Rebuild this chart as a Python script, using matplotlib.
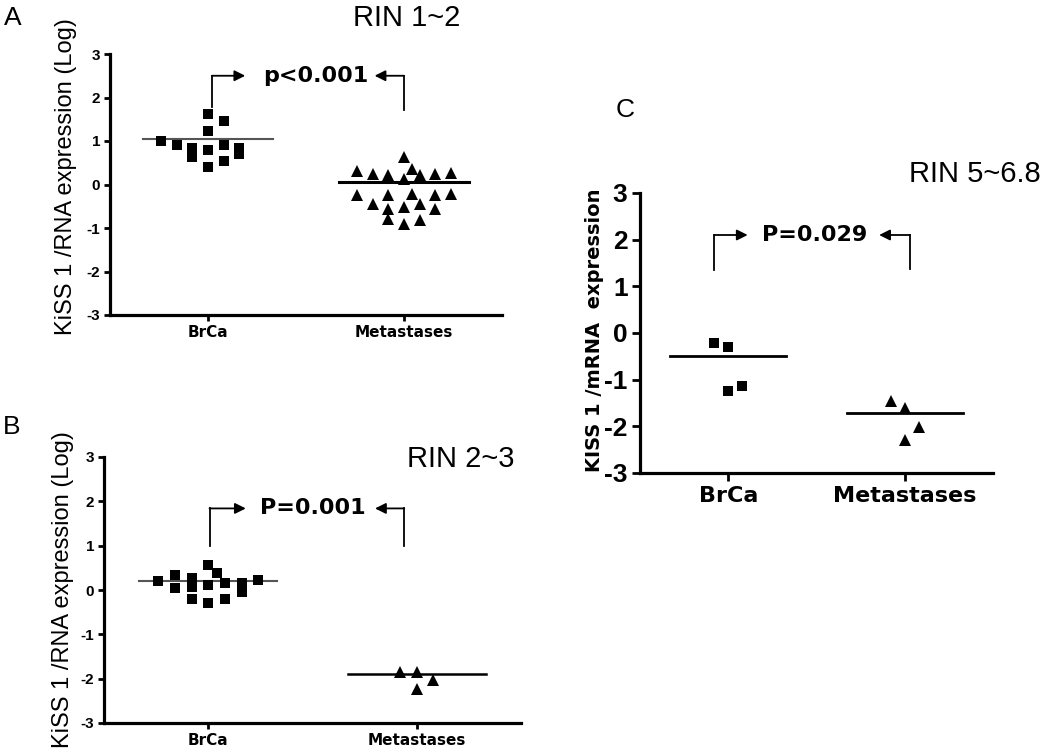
import matplotlib.pyplot as plt

# --- data (log expression) ---
categories = ["BrCa", "Metastases"]
yticks = [-3, -2, -1, 0, 1, 2, 3]

# panel A  (RIN 1~2)
a_brca = [1.00, 0.90, 0.84, 0.63, 1.62, 1.23, 0.80, 0.41, 1.47, 0.90, 0.53, 0.84, 0.70]
a_brca_col = [-3, -2, -1, -1, 0, 0, 0, 0, 1, 1, 1, 2, 2]
a_met = [0.32, -0.25, 0.25, -0.44, 0.21, -0.25, -0.56, -0.79, 0.63, 0.13, -0.52, -0.90,
         0.36, -0.21, 0.21, -0.44, -0.81, 0.23, -0.25, -0.56, 0.26, -0.21]
a_met_col = [-3, -3, -2, -2, -1, -1, -1, -1, 0, 0, 0, 0,
             0.5, 0.5, 1, 1, 1, 2, 2, 2, 3, 3]
a_lines = [1.05, 0.05]

# panel B  (RIN 2~3)
b_brca = [0.20, 0.34, 0.04, 0.26, 0.07, -0.20, 0.56, 0.11, -0.29, 0.39, 0.15, -0.20, 0.15, -0.04, 0.23]
b_brca_col = [-3, -2, -2, -1, -1, -1, 0, 0, 0, 0.5, 1, 1, 2, 2, 3]
b_met = [-1.84, -1.84, -2.24, -2.03]
b_met_col = [-1, 0, 0, 1]
b_lines = [0.20, -1.90]

# panel C  (RIN 5~6.8)
c_brca = [-0.21, -0.29, -1.24, -1.13]
c_brca_col = [-1, 0, 0, 1]
c_met = [-1.46, -1.60, -2.30, -2.02]
c_met_col = [-1, 0, 0, 1]
c_lines = [-0.49, -1.72]

titles = ["RIN 1~2", "RIN 2~3", "RIN 5~6.8"]
pvalues = ["p<0.001", "P=0.001", "P=0.029"]

plt.rcParams['font.family'] = ['Liberation Sans', 'DejaVu Sans']

W, H = 1050, 751
fig = plt.figure(figsize=(W / 100, H / 100), dpi=100)


def px_axes(x0, x1, ytop, ybot):
    return fig.add_axes([x0 / W, 1 - ybot / H, (x1 - x0) / W, (ybot - ytop) / H])


def setup(ax, ysize, xsize):
    ax.set_xlim(0.5, 2.5)
    ax.set_ylim(-3, 3)
    for s in ["top", "right"]:
        ax.spines[s].set_visible(False)
    for s in ["left", "bottom"]:
        ax.spines[s].set_linewidth(2.3)
    ax.set_yticks(yticks)
    ax.set_yticklabels([str(t) for t in yticks], fontsize=ysize, fontweight="bold")
    ax.set_xticks([1, 2])
    ax.set_xticklabels(categories, fontsize=xsize, fontweight="bold", family="DejaVu Sans")
    ax.tick_params(direction="out", length=4, width=2.0, pad=3)


def dots(ax, vals, cols, center, marker, ms, step=0.08):
    xs = [center + c * step for c in cols]
    ax.plot(xs, vals, linestyle="none", marker=marker, color="black", ms=ms, mew=0)


def mean_line(ax, center, y, color="black", lw=1.6):
    ax.plot([center - 0.33, center + 0.33], [y, y], color=color, lw=lw, zorder=1)


def bracket(ax, text, lx, ltip, rx, rtip, ybot_l, ybot_r, ytop, tx, size):
    ax.plot([lx, lx], [ybot_l, ytop], color="black", lw=1.3, clip_on=False)
    ax.plot([rx, rx], [ybot_r, ytop], color="black", lw=1.3, clip_on=False)
    arrow = dict(arrowstyle="-|>", color="black", lw=1.3, mutation_scale=16, shrinkA=0, shrinkB=0)
    ax.annotate("", xy=(ltip, ytop), xytext=(lx, ytop), arrowprops=arrow)
    ax.annotate("", xy=(rtip, ytop), xytext=(rx, ytop), arrowprops=arrow)
    ax.text(tx, ytop, text, ha="center", va="center", fontsize=size, fontweight="bold",
            family="DejaVu Sans")


# ---- A ----
axA = px_axes(110, 502, 54, 315)
setup(axA, 11, 11)
mean_line(axA, 1, a_lines[0], color="#555555", lw=1.5)
mean_line(axA, 2, a_lines[1], lw=2.2)
dots(axA, a_brca, a_brca_col, 1, "s", 7.8)
dots(axA, a_met, a_met_col, 2, "^", 8.5)
bracket(axA, pvalues[0], 1.02, 1.19, 2.0, 1.85, 1.78, 1.72, 2.5, 1.55, 16)

# ---- B ----
axB = px_axes(104, 521, 457, 723)
setup(axB, 11, 11)
mean_line(axB, 1, b_lines[0], color="#555555", lw=1.5)
mean_line(axB, 2, b_lines[1], lw=1.8)
dots(axB, b_brca, b_brca_col, 1, "s", 7.8)
dots(axB, b_met, b_met_col, 2, "^", 8.5)
bracket(axB, pvalues[1], 1.006, 1.18, 1.94, 1.80, 1.0, 1.0, 1.84, 1.50, 16)

# ---- C ----
axC = px_axes(640, 993, 193, 473)
setup(axC, 19, 16)
axC.tick_params(length=6, pad=3)
mean_line(axC, 1, c_lines[0], lw=2.0)
mean_line(axC, 2, c_lines[1], lw=2.0)
dots(axC, c_brca, c_brca_col, 1, "s", 7.8)
dots(axC, c_met, c_met_col, 2, "^", 8.5)
bracket(axC, pvalues[2], 0.92, 1.11, 2.03, 1.855, 1.36, 1.38, 2.10, 1.49, 16)

# ---- labels ----
fig.text(66 / W, 1 - 177 / H, "KiSS 1 /RNA expression (Log)", rotation=90,
         ha="center", va="center", fontsize=17)
fig.text(63 / W, 1 - 590 / H, "KiSS 1 /RNA expression (Log)", rotation=90,
         ha="center", va="center", fontsize=17)
fig.text(595 / W, 1 - 330 / H, "KISS 1 /mRNA  expression", rotation=90,
         ha="center", va="center", fontsize=14, fontweight="bold", family="DejaVu Sans")

fig.text(407 / W, 1 - 18 / H, titles[0], ha="center", va="center", fontsize=21)
fig.text(461 / W, 1 - 459 / H, titles[1], ha="center", va="center", fontsize=21)
fig.text(975 / W, 1 - 174 / H, titles[2], ha="center", va="center", fontsize=21)

fig.text(13 / W, 1 - 18 / H, "A", ha="center", va="center", fontsize=19)
fig.text(12 / W, 1 - 427 / H, "B", ha="center", va="center", fontsize=19)
fig.text(625 / W, 1 - 110 / H, "C", ha="center", va="center", fontsize=19)

fig.savefig("out.png", dpi=100)
